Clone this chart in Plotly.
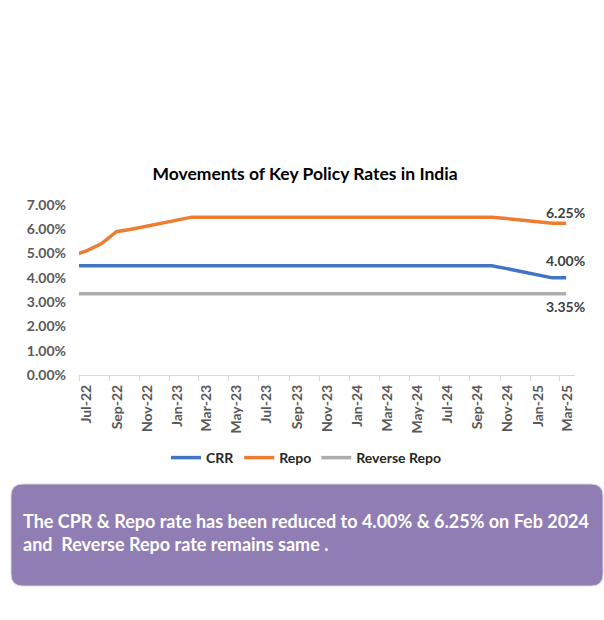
import pandas as pd
import plotly.graph_objects as go

# Monthly policy rates (%), mid-month observations
months = ["Jun-22", "Jul-22", "Aug-22", "Sep-22", "Oct-22", "Nov-22", "Dec-22",
          "Jan-23", "Feb-23", "Mar-23", "Apr-23", "May-23", "Jun-23", "Jul-23",
          "Aug-23", "Sep-23", "Oct-23", "Nov-23", "Dec-23", "Jan-24", "Feb-24",
          "Mar-24", "Apr-24", "May-24", "Jun-24", "Jul-24", "Aug-24", "Sep-24",
          "Oct-24", "Nov-24", "Dec-24", "Jan-25", "Feb-25", "Mar-25"]
crr = [4.50] * 29 + [4.38, 4.25, 4.12, 4.00, 4.00]
repo = [4.90, 5.10, 5.40, 5.90, 6.00, 6.13, 6.25, 6.38] + [6.50] * 21 + [6.44, 6.38, 6.31, 6.25, 6.25]
reverse_repo = [3.35] * 34

tick_labels = ["Jul-22", "Sep-22", "Nov-22", "Jan-23", "Mar-23", "May-23", "Jul-23",
               "Sep-23", "Nov-23", "Jan-24", "Mar-24", "May-24", "Jul-24", "Sep-24",
               "Nov-24", "Jan-25", "Mar-25"]

W, H = 604, 620
ML, MR, MT, MB = 79, 29, 205, 245
PW, PH = W - ML - MR, H - MT - MB


def px_x(p):
    return (p - ML) / PW


def px_y(p):
    return (H - MB - p) / PH


def month_start(m):
    return pd.to_datetime("01-" + m, format="%d-%b-%y")


x_dates = [month_start(m) + pd.Timedelta(days=14) for m in months]
label_pos = [month_start(m) + pd.Timedelta(days=16) for m in tick_labels]

FONT = "Lato"
fig = go.Figure()
series = [("CRR", crr, "#4472C4"), ("Repo", repo, "#ED7D31"),
          ("Reverse Repo", reverse_repo, "#ADADAD")]
for name, vals, col in series:
    fig.add_trace(go.Scatter(x=x_dates, y=vals, name=name, mode="lines",
                             line=dict(color=col, width=3.5)))

# End-of-series value labels
end_labels = [(repo, 11), (crr, 17), (reverse_repo, -13)]
for vals, shift in end_labels:
    fig.add_annotation(x=x_dates[-1], y=vals[-1], text=f"{vals[-1]:.2f}%",
                       showarrow=False, yshift=shift, xshift=-1,
                       font=dict(family=FONT, size=14, color="#404040", weight="bold"))

# Summary box
r = 12
x0, x1, y0, y1 = 11, 603, 484, 586
path = (f"M {px_x(x0 + r)} {px_y(y0)} L {px_x(x1 - r)} {px_y(y0)} "
        f"Q {px_x(x1)} {px_y(y0)} {px_x(x1)} {px_y(y0 + r)} "
        f"L {px_x(x1)} {px_y(y1 - r)} Q {px_x(x1)} {px_y(y1)} {px_x(x1 - r)} {px_y(y1)} "
        f"L {px_x(x0 + r)} {px_y(y1)} Q {px_x(x0)} {px_y(y1)} {px_x(x0)} {px_y(y1 - r)} "
        f"L {px_x(x0)} {px_y(y0 + r)} Q {px_x(x0)} {px_y(y0)} {px_x(x0 + r)} {px_y(y0)} Z")
fig.add_shape(type="path", path=path, xref="paper", yref="paper",
              fillcolor="#8F7DB4", line=dict(color="#D9D3E6", width=1), layer="below")
fig.add_annotation(xref="paper", yref="paper", x=px_x(21), y=px_y(532),
                   xanchor="left", yanchor="middle", align="left", showarrow=False,
                   text="The CPR &amp; Repo rate has been reduced to 4.00% &amp; 6.25% on Feb 2024"
                        "<br>and \u00a0Reverse Repo rate remains same .",
                   font=dict(family=FONT, size=18, color="white", weight="bold"))

x_range = ["2022-07-01", "2025-04-02"]
fig.update_layout(
    width=W, height=H,
    margin=dict(l=ML, r=MR, t=MT, b=MB),
    paper_bgcolor="white", plot_bgcolor="white",
    title=dict(text="Movements of Key Policy Rates in India", x=305 / W,
               xanchor="center", y=1 - 174 / H, yanchor="middle",
               font=dict(family=FONT, size=17.5, color="#000000", weight="bold")),
    showlegend=True,
    legend=dict(orientation="h", x=px_x(306), xanchor="center", y=px_y(458), yanchor="middle",
                font=dict(family=FONT, size=14, color="#262626", weight="bold"),
                itemwidth=30, tracegroupgap=0),
    xaxis=dict(type="date", range=x_range, showgrid=False, zeroline=False,
               showline=True, linecolor="#D9D9D9", linewidth=1,
               ticks="outside", ticklen=5, tickcolor="#D9D9D9",
               tick0="2022-07-01", dtick="M2", showticklabels=False),
    xaxis2=dict(type="date", range=x_range, overlaying="x", anchor="y", side="bottom",
                showgrid=False, zeroline=False, showline=False, ticks="",
                tickmode="array", tickvals=label_pos, ticktext=tick_labels,
                tickangle=-90, ticklabelstandoff=6,
                tickfont=dict(family=FONT, size=14, color="#595959", weight="bold")),
    yaxis=dict(range=[0, 7], dtick=1, tickformat=".2f", ticksuffix="%",
               showgrid=False, zeroline=False, showline=False, ticks="",
               ticklabelstandoff=12,
               tickfont=dict(family=FONT, size=14, color="#595959", weight="bold")),
)
# Invisible trace so the label axis is drawn
fig.add_trace(go.Scatter(x=[x_dates[1]], y=[None], xaxis="x2", showlegend=False,
                         hoverinfo="skip"))

fig.write_html("out.html")
